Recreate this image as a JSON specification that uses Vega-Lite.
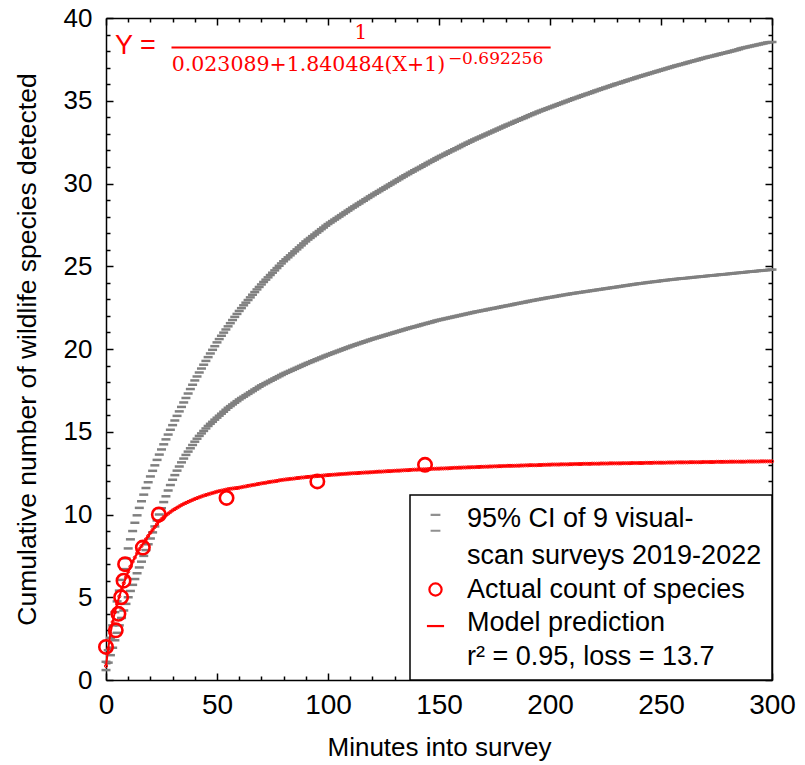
{
"$schema": "https://vega.github.io/schema/vega-lite/v6.json",
"width": 666, "height": 662,
"autosize": {"type": "none"},
"padding": {"left": 106, "top": 18, "right": 33, "bottom": 85},
"background": "white",
"config": {"view": {"stroke": null}, "axis": {"grid": false}, "legend": {"strokeWidth": 1.5}},
"datasets": {
"curves": [
{"m":0,"lo":0.6,"hi":1.1,"p":0.85},{"m":1,"lo":1.05,"hi":1.8,"p":1.9},{"m":2,"lo":1.5,"hi":2.55,"p":2.8},{"m":3,"lo":1.95,"hi":3.3,"p":3.5},{"m":4,"lo":2.4,"hi":4.1,"p":4.1},{"m":5,"lo":2.85,"hi":4.75,"p":4.6},{"m":6,"lo":3.3,"hi":5.4,"p":5.05},{"m":7,"lo":3.75,"hi":6.05,"p":5.45},{"m":8,"lo":4.2,"hi":6.7,"p":5.85},{"m":9,"lo":4.6,"hi":7.35,"p":6.2},
{"m":10,"lo":5.0,"hi":7.95,"p":6.55},{"m":11,"lo":5.38,"hi":8.5,"p":6.85},{"m":12,"lo":5.75,"hi":9.0,"p":7.15},{"m":13,"lo":6.1,"hi":9.5,"p":7.4},{"m":14,"lo":6.45,"hi":9.95,"p":7.65},{"m":15,"lo":6.8,"hi":10.4,"p":7.9},{"m":16,"lo":7.15,"hi":10.8,"p":8.1},{"m":17,"lo":7.5,"hi":11.2,"p":8.3},{"m":18,"lo":7.85,"hi":11.6,"p":8.5},{"m":19,"lo":8.2,"hi":11.95,"p":8.7},
{"m":20,"lo":8.55,"hi":12.3,"p":8.9},{"m":21,"lo":8.92,"hi":12.64,"p":9.07},{"m":22,"lo":9.28,"hi":12.97,"p":9.25},{"m":23,"lo":9.64,"hi":13.3,"p":9.42},{"m":24,"lo":10.0,"hi":13.62,"p":9.6},{"m":25,"lo":10.38,"hi":13.93,"p":9.72},{"m":26,"lo":10.75,"hi":14.24,"p":9.85},{"m":27,"lo":11.1,"hi":14.54,"p":9.95},{"m":28,"lo":11.45,"hi":14.83,"p":10.05},{"m":29,"lo":11.78,"hi":15.12,"p":10.15},
{"m":30,"lo":12.1,"hi":15.4,"p":10.25},{"m":31,"lo":12.38,"hi":15.68,"p":10.33},{"m":32,"lo":12.65,"hi":15.96,"p":10.41},{"m":33,"lo":12.9,"hi":16.23,"p":10.49},{"m":34,"lo":13.15,"hi":16.5,"p":10.57},{"m":35,"lo":13.38,"hi":16.77,"p":10.64},{"m":36,"lo":13.6,"hi":17.04,"p":10.7},{"m":37,"lo":13.8,"hi":17.31,"p":10.76},{"m":38,"lo":14.0,"hi":17.58,"p":10.82},{"m":39,"lo":14.2,"hi":17.84,"p":10.88},
{"m":40,"lo":14.4,"hi":18.1,"p":10.94},{"m":41,"lo":14.58,"hi":18.34,"p":10.99},{"m":42,"lo":14.75,"hi":18.58,"p":11.04},{"m":43,"lo":14.9,"hi":18.82,"p":11.09},{"m":44,"lo":15.05,"hi":19.05,"p":11.14},{"m":45,"lo":15.2,"hi":19.28,"p":11.18},{"m":46,"lo":15.35,"hi":19.51,"p":11.22},{"m":47,"lo":15.48,"hi":19.73,"p":11.26},{"m":48,"lo":15.6,"hi":19.95,"p":11.3},{"m":49,"lo":15.73,"hi":20.17,"p":11.34},
{"m":50,"lo":15.85,"hi":20.4,"p":11.38},{"m":51,"lo":15.97,"hi":20.6,"p":11.41},{"m":52,"lo":16.09,"hi":20.8,"p":11.44},{"m":53,"lo":16.21,"hi":20.99,"p":11.47},{"m":54,"lo":16.33,"hi":21.18,"p":11.5},{"m":55,"lo":16.45,"hi":21.37,"p":11.53},{"m":56,"lo":16.55,"hi":21.56,"p":11.55},{"m":57,"lo":16.65,"hi":21.75,"p":11.57},{"m":58,"lo":16.75,"hi":21.94,"p":11.59},{"m":59,"lo":16.85,"hi":22.12,"p":11.6},
{"m":60,"lo":16.95,"hi":22.3,"p":11.62},{"m":61,"lo":17.04,"hi":22.47,"p":11.65},{"m":62,"lo":17.12,"hi":22.64,"p":11.68},{"m":63,"lo":17.21,"hi":22.8,"p":11.7},{"m":64,"lo":17.29,"hi":22.96,"p":11.73},{"m":65,"lo":17.38,"hi":23.12,"p":11.75},{"m":66,"lo":17.46,"hi":23.28,"p":11.78},{"m":67,"lo":17.55,"hi":23.44,"p":11.8},{"m":68,"lo":17.63,"hi":23.6,"p":11.83},{"m":69,"lo":17.72,"hi":23.75,"p":11.85},
{"m":70,"lo":17.8,"hi":23.9,"p":11.88},{"m":71,"lo":17.87,"hi":24.05,"p":11.9},{"m":72,"lo":17.94,"hi":24.19,"p":11.92},{"m":73,"lo":18.01,"hi":24.33,"p":11.95},{"m":74,"lo":18.08,"hi":24.47,"p":11.97},{"m":75,"lo":18.15,"hi":24.61,"p":11.99},{"m":76,"lo":18.22,"hi":24.75,"p":12.01},{"m":77,"lo":18.29,"hi":24.89,"p":12.03},{"m":78,"lo":18.36,"hi":25.03,"p":12.06},{"m":79,"lo":18.43,"hi":25.17,"p":12.08},
{"m":80,"lo":18.5,"hi":25.3,"p":12.1},{"m":81,"lo":18.56,"hi":25.42,"p":12.12},{"m":82,"lo":18.62,"hi":25.54,"p":12.13},{"m":83,"lo":18.68,"hi":25.66,"p":12.15},{"m":84,"lo":18.74,"hi":25.78,"p":12.16},{"m":85,"lo":18.8,"hi":25.9,"p":12.18},{"m":86,"lo":18.86,"hi":26.02,"p":12.2},{"m":87,"lo":18.92,"hi":26.14,"p":12.21},{"m":88,"lo":18.98,"hi":26.26,"p":12.23},{"m":89,"lo":19.04,"hi":26.38,"p":12.24},
{"m":90,"lo":19.1,"hi":26.5,"p":12.26},{"m":91,"lo":19.16,"hi":26.61,"p":12.27},{"m":92,"lo":19.21,"hi":26.71,"p":12.28},{"m":93,"lo":19.27,"hi":26.82,"p":12.3},{"m":94,"lo":19.32,"hi":26.92,"p":12.31},{"m":95,"lo":19.38,"hi":27.03,"p":12.32},{"m":96,"lo":19.43,"hi":27.13,"p":12.33},{"m":97,"lo":19.49,"hi":27.24,"p":12.34},{"m":98,"lo":19.54,"hi":27.34,"p":12.36},{"m":99,"lo":19.6,"hi":27.45,"p":12.37},
{"m":100,"lo":19.65,"hi":27.55,"p":12.38},{"m":101,"lo":19.7,"hi":27.64,"p":12.39},{"m":102,"lo":19.75,"hi":27.73,"p":12.4},{"m":103,"lo":19.8,"hi":27.82,"p":12.41},{"m":104,"lo":19.85,"hi":27.91,"p":12.42},{"m":105,"lo":19.9,"hi":28.0,"p":12.43},{"m":106,"lo":19.95,"hi":28.09,"p":12.44},{"m":107,"lo":20.0,"hi":28.18,"p":12.45},{"m":108,"lo":20.05,"hi":28.27,"p":12.46},{"m":109,"lo":20.1,"hi":28.36,"p":12.47},
{"m":110,"lo":20.15,"hi":28.45,"p":12.48},{"m":111,"lo":20.2,"hi":28.54,"p":12.49},{"m":112,"lo":20.24,"hi":28.62,"p":12.5},{"m":113,"lo":20.29,"hi":28.71,"p":12.5},{"m":114,"lo":20.33,"hi":28.79,"p":12.51},{"m":115,"lo":20.38,"hi":28.88,"p":12.52},{"m":116,"lo":20.42,"hi":28.96,"p":12.53},{"m":117,"lo":20.47,"hi":29.05,"p":12.54},{"m":118,"lo":20.51,"hi":29.13,"p":12.54},{"m":119,"lo":20.56,"hi":29.22,"p":12.55},
{"m":120,"lo":20.6,"hi":29.3,"p":12.56},{"m":121,"lo":20.64,"hi":29.38,"p":12.57},{"m":122,"lo":20.68,"hi":29.46,"p":12.58},{"m":123,"lo":20.72,"hi":29.54,"p":12.59},{"m":124,"lo":20.76,"hi":29.62,"p":12.59},{"m":125,"lo":20.8,"hi":29.7,"p":12.6},{"m":126,"lo":20.84,"hi":29.78,"p":12.61},{"m":127,"lo":20.88,"hi":29.86,"p":12.62},{"m":128,"lo":20.92,"hi":29.94,"p":12.62},{"m":129,"lo":20.96,"hi":30.02,"p":12.63},
{"m":130,"lo":21.0,"hi":30.1,"p":12.64},{"m":131,"lo":21.04,"hi":30.18,"p":12.65},{"m":132,"lo":21.08,"hi":30.26,"p":12.65},{"m":133,"lo":21.12,"hi":30.34,"p":12.66},{"m":134,"lo":21.16,"hi":30.42,"p":12.67},{"m":135,"lo":21.2,"hi":30.5,"p":12.68},{"m":136,"lo":21.24,"hi":30.57,"p":12.68},{"m":137,"lo":21.28,"hi":30.65,"p":12.69},{"m":138,"lo":21.31,"hi":30.72,"p":12.7},{"m":139,"lo":21.35,"hi":30.8,"p":12.71},
{"m":140,"lo":21.38,"hi":30.87,"p":12.71},{"m":141,"lo":21.42,"hi":30.94,"p":12.72},{"m":142,"lo":21.46,"hi":31.01,"p":12.72},{"m":143,"lo":21.5,"hi":31.09,"p":12.73},{"m":144,"lo":21.53,"hi":31.16,"p":12.73},{"m":145,"lo":21.57,"hi":31.24,"p":12.74},{"m":146,"lo":21.6,"hi":31.31,"p":12.75},{"m":147,"lo":21.64,"hi":31.38,"p":12.76},{"m":148,"lo":21.68,"hi":31.45,"p":12.76},{"m":149,"lo":21.72,"hi":31.53,"p":12.77},
{"m":150,"lo":21.75,"hi":31.6,"p":12.77},{"m":151,"lo":21.78,"hi":31.67,"p":12.78},{"m":152,"lo":21.81,"hi":31.73,"p":12.78},{"m":153,"lo":21.84,"hi":31.8,"p":12.79},{"m":154,"lo":21.87,"hi":31.87,"p":12.79},{"m":155,"lo":21.9,"hi":31.94,"p":12.8},{"m":156,"lo":21.93,"hi":32.0,"p":12.81},{"m":157,"lo":21.96,"hi":32.07,"p":12.82},{"m":158,"lo":21.99,"hi":32.13,"p":12.82},{"m":159,"lo":22.02,"hi":32.2,"p":12.83},
{"m":160,"lo":22.05,"hi":32.27,"p":12.83},{"m":161,"lo":22.08,"hi":32.34,"p":12.84},{"m":162,"lo":22.11,"hi":32.4,"p":12.84},{"m":163,"lo":22.14,"hi":32.47,"p":12.85},{"m":164,"lo":22.17,"hi":32.53,"p":12.85},{"m":165,"lo":22.2,"hi":32.6,"p":12.86},{"m":166,"lo":22.23,"hi":32.66,"p":12.86},{"m":167,"lo":22.26,"hi":32.72,"p":12.87},{"m":168,"lo":22.28,"hi":32.78,"p":12.87},{"m":169,"lo":22.31,"hi":32.84,"p":12.88},
{"m":170,"lo":22.33,"hi":32.9,"p":12.88},{"m":171,"lo":22.36,"hi":32.96,"p":12.89},{"m":172,"lo":22.39,"hi":33.02,"p":12.89},{"m":173,"lo":22.42,"hi":33.08,"p":12.9},{"m":174,"lo":22.44,"hi":33.14,"p":12.9},{"m":175,"lo":22.47,"hi":33.2,"p":12.91},{"m":176,"lo":22.49,"hi":33.26,"p":12.91},{"m":177,"lo":22.52,"hi":33.32,"p":12.92},{"m":178,"lo":22.55,"hi":33.38,"p":12.92},{"m":179,"lo":22.58,"hi":33.44,"p":12.93},
{"m":180,"lo":22.6,"hi":33.5,"p":12.93},{"m":181,"lo":22.63,"hi":33.56,"p":12.94},{"m":182,"lo":22.65,"hi":33.61,"p":12.94},{"m":183,"lo":22.68,"hi":33.67,"p":12.94},{"m":184,"lo":22.71,"hi":33.73,"p":12.94},{"m":185,"lo":22.74,"hi":33.79,"p":12.95},{"m":186,"lo":22.76,"hi":33.84,"p":12.95},{"m":187,"lo":22.79,"hi":33.9,"p":12.96},{"m":188,"lo":22.81,"hi":33.95,"p":12.96},{"m":189,"lo":22.84,"hi":34.01,"p":12.97},
{"m":190,"lo":22.87,"hi":34.07,"p":12.97},{"m":191,"lo":22.9,"hi":34.13,"p":12.98},{"m":192,"lo":22.92,"hi":34.18,"p":12.98},{"m":193,"lo":22.95,"hi":34.24,"p":12.98},{"m":194,"lo":22.97,"hi":34.29,"p":12.98},{"m":195,"lo":23.0,"hi":34.35,"p":12.99},{"m":196,"lo":23.02,"hi":34.4,"p":12.99},{"m":197,"lo":23.05,"hi":34.45,"p":13.0},{"m":198,"lo":23.07,"hi":34.5,"p":13.0},{"m":199,"lo":23.1,"hi":34.55,"p":13.01},
{"m":200,"lo":23.12,"hi":34.6,"p":13.01},{"m":201,"lo":23.14,"hi":34.65,"p":13.02},{"m":202,"lo":23.16,"hi":34.7,"p":13.02},{"m":203,"lo":23.19,"hi":34.75,"p":13.02},{"m":204,"lo":23.21,"hi":34.8,"p":13.02},{"m":205,"lo":23.24,"hi":34.85,"p":13.03},{"m":206,"lo":23.26,"hi":34.9,"p":13.03},{"m":207,"lo":23.28,"hi":34.95,"p":13.03},{"m":208,"lo":23.3,"hi":35.0,"p":13.03},{"m":209,"lo":23.33,"hi":35.05,"p":13.04},
{"m":210,"lo":23.35,"hi":35.1,"p":13.04},{"m":211,"lo":23.37,"hi":35.15,"p":13.05},{"m":212,"lo":23.39,"hi":35.19,"p":13.05},{"m":213,"lo":23.41,"hi":35.24,"p":13.05},{"m":214,"lo":23.43,"hi":35.29,"p":13.05},{"m":215,"lo":23.45,"hi":35.34,"p":13.06},{"m":216,"lo":23.47,"hi":35.38,"p":13.06},{"m":217,"lo":23.49,"hi":35.43,"p":13.06},{"m":218,"lo":23.51,"hi":35.47,"p":13.06},{"m":219,"lo":23.53,"hi":35.52,"p":13.07},
{"m":220,"lo":23.55,"hi":35.57,"p":13.07},{"m":221,"lo":23.57,"hi":35.62,"p":13.07},{"m":222,"lo":23.59,"hi":35.66,"p":13.07},{"m":223,"lo":23.61,"hi":35.71,"p":13.08},{"m":224,"lo":23.63,"hi":35.75,"p":13.08},{"m":225,"lo":23.65,"hi":35.8,"p":13.08},{"m":226,"lo":23.67,"hi":35.84,"p":13.08},{"m":227,"lo":23.69,"hi":35.89,"p":13.09},{"m":228,"lo":23.71,"hi":35.93,"p":13.09},{"m":229,"lo":23.73,"hi":35.98,"p":13.09},
{"m":230,"lo":23.75,"hi":36.02,"p":13.09},{"m":231,"lo":23.77,"hi":36.06,"p":13.09},{"m":232,"lo":23.79,"hi":36.1,"p":13.09},{"m":233,"lo":23.81,"hi":36.15,"p":13.1},{"m":234,"lo":23.83,"hi":36.19,"p":13.1},{"m":235,"lo":23.85,"hi":36.24,"p":13.1},{"m":236,"lo":23.87,"hi":36.28,"p":13.1},{"m":237,"lo":23.89,"hi":36.32,"p":13.11},{"m":238,"lo":23.91,"hi":36.36,"p":13.11},{"m":239,"lo":23.93,"hi":36.41,"p":13.11},
{"m":240,"lo":23.95,"hi":36.45,"p":13.11},{"m":241,"lo":23.97,"hi":36.49,"p":13.11},{"m":242,"lo":23.98,"hi":36.53,"p":13.11},{"m":243,"lo":24.0,"hi":36.57,"p":13.12},{"m":244,"lo":24.02,"hi":36.61,"p":13.12},{"m":245,"lo":24.04,"hi":36.65,"p":13.12},{"m":246,"lo":24.05,"hi":36.69,"p":13.12},{"m":247,"lo":24.07,"hi":36.73,"p":13.13},{"m":248,"lo":24.08,"hi":36.77,"p":13.13},{"m":249,"lo":24.1,"hi":36.81,"p":13.13},
{"m":250,"lo":24.12,"hi":36.85,"p":13.13},{"m":251,"lo":24.14,"hi":36.89,"p":13.13},{"m":252,"lo":24.15,"hi":36.93,"p":13.13},{"m":253,"lo":24.17,"hi":36.97,"p":13.14},{"m":254,"lo":24.18,"hi":37.01,"p":13.14},{"m":255,"lo":24.2,"hi":37.05,"p":13.14},{"m":256,"lo":24.21,"hi":37.09,"p":13.14},{"m":257,"lo":24.23,"hi":37.13,"p":13.15},{"m":258,"lo":24.24,"hi":37.16,"p":13.15},{"m":259,"lo":24.26,"hi":37.2,"p":13.15},
{"m":260,"lo":24.27,"hi":37.23,"p":13.15},{"m":261,"lo":24.28,"hi":37.27,"p":13.15},{"m":262,"lo":24.29,"hi":37.31,"p":13.15},{"m":263,"lo":24.31,"hi":37.35,"p":13.16},{"m":264,"lo":24.32,"hi":37.38,"p":13.16},{"m":265,"lo":24.34,"hi":37.42,"p":13.16},{"m":266,"lo":24.35,"hi":37.45,"p":13.16},{"m":267,"lo":24.36,"hi":37.49,"p":13.16},{"m":268,"lo":24.37,"hi":37.53,"p":13.16},{"m":269,"lo":24.39,"hi":37.57,"p":13.17},
{"m":270,"lo":24.4,"hi":37.6,"p":13.17},{"m":271,"lo":24.42,"hi":37.64,"p":13.17},{"m":272,"lo":24.43,"hi":37.67,"p":13.17},{"m":273,"lo":24.44,"hi":37.7,"p":13.17},{"m":274,"lo":24.45,"hi":37.73,"p":13.17},{"m":275,"lo":24.47,"hi":37.77,"p":13.18},{"m":276,"lo":24.48,"hi":37.8,"p":13.18},{"m":277,"lo":24.5,"hi":37.84,"p":13.18},{"m":278,"lo":24.51,"hi":37.87,"p":13.18},{"m":279,"lo":24.52,"hi":37.9,"p":13.18},
{"m":280,"lo":24.53,"hi":37.93,"p":13.18},{"m":281,"lo":24.55,"hi":37.97,"p":13.19},{"m":282,"lo":24.56,"hi":38.0,"p":13.19},{"m":283,"lo":24.58,"hi":38.04,"p":13.19},{"m":284,"lo":24.59,"hi":38.07,"p":13.19},{"m":285,"lo":24.6,"hi":38.11,"p":13.19},{"m":286,"lo":24.61,"hi":38.16,"p":13.19},{"m":287,"lo":24.63,"hi":38.19,"p":13.19},{"m":288,"lo":24.64,"hi":38.22,"p":13.19},{"m":289,"lo":24.66,"hi":38.25,"p":13.2},
{"m":290,"lo":24.67,"hi":38.28,"p":13.2},{"m":291,"lo":24.68,"hi":38.31,"p":13.2},{"m":292,"lo":24.69,"hi":38.34,"p":13.2},{"m":293,"lo":24.71,"hi":38.37,"p":13.2},{"m":294,"lo":24.72,"hi":38.4,"p":13.2},{"m":295,"lo":24.74,"hi":38.43,"p":13.21},{"m":296,"lo":24.75,"hi":38.46,"p":13.21},{"m":297,"lo":24.76,"hi":38.49,"p":13.21},{"m":298,"lo":24.77,"hi":38.52,"p":13.21},{"m":299,"lo":24.79,"hi":38.54,"p":13.21},
{"m":300,"lo":24.8,"hi":38.55,"p":13.21}
],
"obs": [
{"m":0,"n":2},{"m":4.4,"n":3},{"m":5.6,"n":4},{"m":6.8,"n":5},{"m":7.9,"n":6},{"m":8.6,"n":7},{"m":16.6,"n":8},{"m":23.8,"n":10},{"m":54.3,"n":11},{"m":95.2,"n":12},{"m":143.7,"n":13}
]
},
"layer": [
{
"data": {"name": "curves"},
"mark": {"type": "tick", "orient": "horizontal", "size": 9, "thickness": 2.5, "opacity": 1, "color": "#808080"},
"encoding": {
"x": {"field": "m", "type": "quantitative",
"scale": {"domain": [0, 300], "nice": false, "zero": false},
"axis": {"orient": "bottom", "title": "Minutes into survey",
"values": [0,10,20,30,40,50,60,70,80,90,100,110,120,130,140,150,160,170,180,190,200,210,220,230,240,250,260,270,280,290,300],
"labelExpr": "datum.value % 50 === 0 ? datum.label : ''",
"tickSize": {"condition": {"test": "datum.value % 50 === 0", "value": -7}, "value": -4},
"labelPadding": 18, "labelOverlap": false, "labelFlush": false,
"labelFont": "Liberation Sans", "labelFontSize": 28, "labelColor": "black",
"titleFont": "Liberation Sans", "titleFontSize": 26, "titleFontWeight": "normal", "titleColor": "black", "titlePadding": 12,
"domainColor": "black", "domainWidth": 1.5, "tickColor": "black", "tickWidth": 1.5}},
"y": {"field": "lo", "type": "quantitative",
"scale": {"domain": [0, 40], "nice": false, "zero": true},
"axis": {"orient": "left", "title": "Cumulative number of wildlife species detected",
"values": [0,1,2,3,4,5,6,7,8,9,10,11,12,13,14,15,16,17,18,19,20,21,22,23,24,25,26,27,28,29,30,31,32,33,34,35,36,37,38,39,40],
"labelExpr": "datum.value % 5 === 0 ? datum.label : ''",
"tickSize": {"condition": {"test": "datum.value % 5 === 0", "value": -7}, "value": -4},
"labelPadding": 21, "labelOverlap": false, "labelFlush": false,
"labelFont": "Liberation Sans", "labelFontSize": 26, "labelColor": "black",
"titleFont": "Liberation Sans", "titleFontSize": 26.5, "titleFontWeight": "normal", "titleColor": "black", "titlePadding": 22,
"domainColor": "black", "domainWidth": 1.5, "tickColor": "black", "tickWidth": 1.5}}
}
},
{
"data": {"name": "curves"},
"mark": {"type": "tick", "orient": "horizontal", "size": 9, "thickness": 2.5, "opacity": 1, "color": "#808080"},
"encoding": {
"x": {"field": "m", "type": "quantitative",
"axis": {"orient": "top", "title": null, "labels": false,
"values": [0,10,20,30,40,50,60,70,80,90,100,110,120,130,140,150,160,170,180,190,200,210,220,230,240,250,260,270,280,290,300],
"tickSize": {"condition": {"test": "datum.value % 50 === 0", "value": -7}, "value": -4},
"domainColor": "black", "domainWidth": 1.5, "tickColor": "black", "tickWidth": 1.5}},
"y": {"field": "hi", "type": "quantitative",
"axis": {"orient": "right", "title": null, "labels": false,
"values": [0,1,2,3,4,5,6,7,8,9,10,11,12,13,14,15,16,17,18,19,20,21,22,23,24,25,26,27,28,29,30,31,32,33,34,35,36,37,38,39,40],
"tickSize": {"condition": {"test": "datum.value % 5 === 0", "value": -7}, "value": -4},
"domainColor": "black", "domainWidth": 1.5, "tickColor": "black", "tickWidth": 1.5}}
}
},
{
"data": {"name": "curves"},
"mark": {"type": "line", "strokeWidth": 2, "color": "#ff0000", "point": {"filled": false, "size": 10, "strokeWidth": 1, "color": "#ff0000"}},
"encoding": {
"x": {"field": "m", "type": "quantitative", "axis": null},
"y": {"field": "p", "type": "quantitative", "axis": null}
}
},
{
"data": {"name": "obs"},
"mark": {"type": "point", "filled": false, "size": 180, "strokeWidth": 2.6, "opacity": 1},
"encoding": {
"x": {"field": "m", "type": "quantitative", "axis": null},
"y": {"field": "n", "type": "quantitative", "axis": null},
"color": {"datum": "obs", "type": "nominal",
"scale": {"domain": ["ci", "ci2", "obs", "model", "r2"], "range": ["#909090", "#909090", "#ff0000", "#ff0000", "#ff0000"]},
"legend": {"orient": "bottom-right", "offset": 0, "title": null,
"labelExpr": "datum.value === 'ci' ? '95% CI of 9 visual-' : datum.value === 'ci2' ? 'scan surveys 2019-2022' : datum.value === 'obs' ? 'Actual count of species' : datum.value === 'model' ? 'Model prediction' : 'r² = 0.95, loss = 13.7'",
"labelFont": "Liberation Sans", "labelFontSize": 27, "labelColor": "black", "labelLimit": 500,
"symbolSize": 150, "symbolOffset": 2, "labelOffset": 18, "rowPadding": 5.5, "padding": 10,
"symbolStrokeWidth": 2.2, "symbolFillColor": "transparent",
"strokeColor": "black", "fillColor": "white"}},
"shape": {"datum": "obs", "type": "nominal",
"scale": {"domain": ["ci", "ci2", "obs", "model", "r2"], "range": ["M-0.8,-0.6H0.8M-0.8,2.0H0.8", "M0,0", "circle", "M-1.4,0.5H1.4", "M0,0"]},
"legend": {"orient": "bottom-right", "offset": 0, "title": null,
"labelExpr": "datum.value === 'ci' ? '95% CI of 9 visual-' : datum.value === 'ci2' ? 'scan surveys 2019-2022' : datum.value === 'obs' ? 'Actual count of species' : datum.value === 'model' ? 'Model prediction' : 'r² = 0.95, loss = 13.7'",
"labelFont": "Liberation Sans", "labelFontSize": 27, "labelColor": "black", "labelLimit": 500,
"symbolSize": 150, "symbolOffset": 2, "labelOffset": 18, "rowPadding": 5.5, "padding": 10,
"symbolStrokeWidth": 2.2, "symbolFillColor": "transparent",
"strokeColor": "black", "fillColor": "white"}}
}
},
{
"data": {"values": [{}]},
"mark": {"type": "text", "align": "left", "baseline": "middle", "font": "Liberation Sans", "fontSize": 27, "color": "#ff0000"},
"encoding": {
"x": {"datum": 4, "type": "quantitative", "axis": null},
"y": {"datum": 38.28, "type": "quantitative", "axis": null},
"text": {"value": "Y ="}
}
},
{
"data": {"values": [{}]},
"mark": {"type": "rule", "color": "#ff0000", "strokeWidth": 2},
"encoding": {
"x": {"datum": 29.5, "type": "quantitative", "axis": null},
"x2": {"datum": 200.3},
"y": {"datum": 38.21, "type": "quantitative", "axis": null}
}
},
{
"data": {"values": [{}]},
"mark": {"type": "text", "align": "center", "baseline": "middle", "font": "DejaVu Serif", "fontSize": 20, "color": "#ff0000"},
"encoding": {
"x": {"datum": 114.8, "type": "quantitative", "axis": null},
"y": {"datum": 39.12, "type": "quantitative", "axis": null},
"text": {"value": "1"}
}
},
{
"data": {"values": [{}]},
"mark": {"type": "text", "align": "left", "baseline": "middle", "font": "DejaVu Serif", "fontSize": 20.5, "color": "#ff0000"},
"encoding": {
"x": {"datum": 29.6, "type": "quantitative", "axis": null},
"y": {"datum": 37.13, "type": "quantitative", "axis": null},
"text": {"value": "0.023089+1.840484(X+1)"}
}
},
{
"data": {"values": [{}]},
"mark": {"type": "text", "align": "left", "baseline": "middle", "font": "DejaVu Serif", "fontSize": 17, "color": "#ff0000"},
"encoding": {
"x": {"datum": 154, "type": "quantitative", "axis": null},
"y": {"datum": 37.5, "type": "quantitative", "axis": null},
"text": {"value": "−0.692256"}
}
}
],
"resolve": {"axis": {"x": "independent", "y": "independent"}}
}
